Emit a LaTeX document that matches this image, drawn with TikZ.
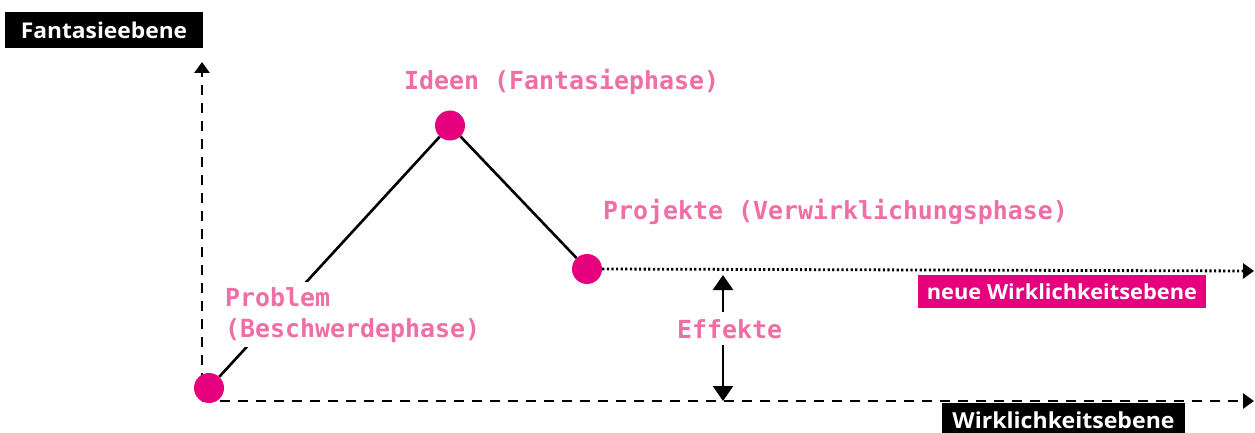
\documentclass[tikz,border=0pt]{standalone}
\usepackage{fontspec}
\usetikzlibrary{arrows.meta}
\newfontfamily\phasefont{DejaVu Sans Mono}
\newfontfamily\levelfont{Open Sans}[FakeStretch=1.05]
\definecolor{dotpink}{HTML}{E6007E}
\definecolor{textpink}{HTML}{F06EA6}
\tikzset{
  axisline/.style={line width=2.8pt, dash pattern=on 10pt off 8pt,
    -{Triangle[length=11pt,width=15pt]}},
  newline/.style={line width=2.8pt, dash pattern=on 2.2pt off 2.4pt,
    -{Triangle[length=11pt,width=15pt]}},
  conn/.style={line width=2.6pt},
  effarrow/.style={line width=2.6pt,
    {Triangle[length=15pt,width=20pt]}-{Triangle[length=15pt,width=20pt]}},
  phasedot/.style={circle, fill=dotpink, minimum size=30pt, inner sep=0pt},
  phase/.style={font=\phasefont\bfseries\fontsize{24.9}{31}\selectfont,
    text=textpink, inner sep=0pt},
  level/.style={text=white, inner sep=0pt},
}
\begin{document}
\begin{tikzpicture}[x=1pt,y=-1pt]
\useasboundingbox (0,0) rectangle (1255,433);

% axes
\coordinate (o) at (202,401);
\coordinate (ytip) at (202,62);
\coordinate (xtip) at (1254,401);
\draw[axisline] (o) -- (ytip);
\draw[axisline] (o) -- (xtip);

% phase points
\node[phasedot] (p) at (209,388) {};
\node[phasedot] (i) at (450,125.5) {};
\node[phasedot] (v) at (587,269) {};

\draw[conn] (p) -- (i);
\draw[conn] (i) -- (v);

% new level of reality
\coordinate (ntip) at (1254,271);
\draw[newline] (v.east) -- (ntip);

% effects
\coordinate (etop) at (723,275);
\coordinate (ebot) at (723,401);
\draw[effarrow] (etop) -- (ebot);
\node[phase, fill=white, inner xsep=4pt, inner ysep=7pt, anchor=base west] (eff) at (673,338) {Effekte};

% phase labels
\node[phase, anchor=base west] (ideen) at (404,90) {Ideen (Fantasiephase)};
\node[phase, anchor=base west] (proj) at (603,219) {Projekte (Verwirklichungsphase)};
\node[phase, fill=white, align=left, anchor=north west, inner sep=5pt] (prob) at (220,282) {Problem\\(Beschwerdephase)};

% level boxes
\node[level, fill=black, minimum width=198pt, minimum height=36pt,
  font=\levelfont\bfseries\fontsize{21.7}{24}\selectfont] (fant) at (104,30) {Fantasieebene};
\node[level, fill=dotpink, minimum width=288pt, minimum height=33pt,
  font=\levelfont\bfseries\fontsize{20.8}{24}\selectfont] (neu) at (1062,291.5) {neue Wirklichkeitsebene};
\node[level, fill=black, minimum width=243pt, minimum height=34pt,
  font=\levelfont\bfseries\fontsize{22}{24}\selectfont] (wirk) at (1063.5,420) {Wirklichkeitsebene};
\end{tikzpicture}
\end{document}
